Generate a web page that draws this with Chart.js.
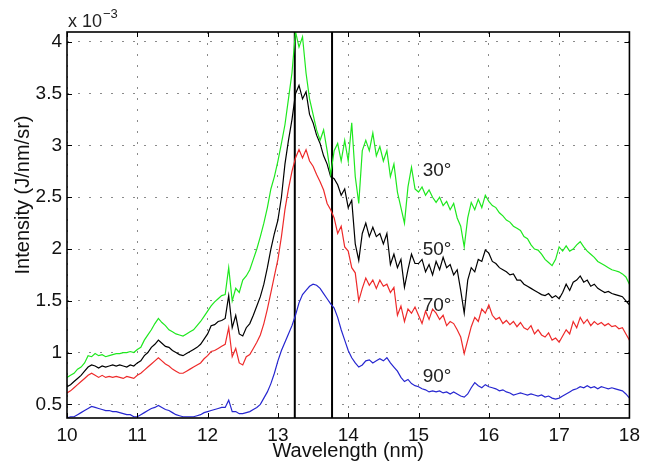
<!DOCTYPE html>
<html>
<head>
<meta charset="utf-8">
<script src="https://cdn.jsdelivr.net/npm/chart.js@4.4.1/dist/chart.umd.min.js"></script>
<style>
  html, body { margin: 0; padding: 0; background: #fff; }
</style>
</head>
<body>
<canvas id="spectraChart" width="646" height="463"></canvas>
<script>
// wavelength sampling grid (nm)
const waveStart = 10;
const waveStep = 0.05;

// intensities in units of 1e-3 J/nm/sr, one value per 0.05 nm from 10 to 18 nm
const int30 = [
  0.76,0.78,0.80,0.84,0.86,0.90,0.97,0.96,0.99,0.97,0.98,0.96,0.97,0.98,0.99,0.99,1.00,1.00,1.01,1.00,
  1.03,1.05,1.12,1.17,1.22,1.28,1.33,1.29,1.26,1.22,1.20,1.18,1.17,1.16,1.18,1.20,1.22,1.26,1.30,1.35,
  1.40,1.45,1.49,1.52,1.55,1.56,1.82,1.50,1.62,1.58,1.70,1.74,1.80,1.90,2.00,2.12,2.25,2.40,2.58,2.70,
  2.85,3.02,3.20,3.45,3.70,4.10,3.95,4.05,3.70,3.45,3.30,3.15,3.05,3.15,2.95,2.72,2.95,3.02,2.85,3.05,
  2.85,3.22,2.70,2.44,2.95,3.05,2.95,3.12,2.90,2.99,2.85,2.95,2.70,2.82,2.55,2.40,2.25,2.60,2.79,2.58,
  2.55,2.60,2.52,2.57,2.50,2.45,2.50,2.42,2.46,2.38,2.44,2.30,2.22,2.02,2.30,2.45,2.38,2.48,2.40,2.52,
  2.46,2.42,2.40,2.35,2.32,2.28,2.26,2.22,2.20,2.18,2.12,2.10,2.04,2.00,1.99,1.95,1.90,1.87,1.84,1.90,
  2.02,1.98,2.03,1.98,2.00,2.04,2.07,2.02,1.98,1.95,1.92,1.88,1.86,1.84,1.82,1.80,1.79,1.78,1.76,1.73,
  1.66
];
const int50 = [
  0.67,0.69,0.72,0.75,0.78,0.82,0.86,0.88,0.87,0.85,0.87,0.86,0.87,0.88,0.87,0.88,0.87,0.86,0.88,0.87,
  0.90,0.92,0.97,1.00,1.05,1.08,1.12,1.09,1.06,1.05,1.02,1.00,0.98,0.97,0.99,1.01,1.03,1.05,1.08,1.13,
  1.18,1.26,1.27,1.30,1.31,1.33,1.55,1.24,1.36,1.18,1.16,1.24,1.28,1.36,1.45,1.54,1.66,1.82,2.00,2.15,
  2.28,2.50,2.82,3.05,3.25,3.50,3.58,3.45,3.52,3.30,3.22,3.10,3.02,2.90,2.82,2.70,2.68,2.62,2.52,2.58,
  2.40,2.47,2.05,1.89,2.15,2.25,2.12,2.21,2.12,2.15,2.05,2.15,1.85,1.95,1.82,1.90,1.63,1.80,1.95,1.86,
  1.86,1.90,1.78,1.85,1.75,1.88,1.80,1.92,1.82,1.85,1.75,1.80,1.60,1.38,1.70,1.82,1.78,1.90,1.88,1.99,
  1.96,1.88,1.86,1.82,1.80,1.78,1.75,1.76,1.70,1.70,1.66,1.64,1.62,1.60,1.58,1.56,1.55,1.57,1.53,1.55,
  1.52,1.58,1.66,1.60,1.68,1.70,1.74,1.68,1.70,1.64,1.66,1.62,1.60,1.58,1.59,1.57,1.56,1.55,1.54,1.50,
  1.46
];
const int70 = [
  0.61,0.63,0.66,0.69,0.72,0.75,0.78,0.80,0.78,0.76,0.78,0.76,0.77,0.76,0.77,0.76,0.75,0.77,0.76,0.75,
  0.78,0.80,0.83,0.86,0.89,0.92,0.95,0.92,0.89,0.87,0.84,0.82,0.80,0.80,0.82,0.84,0.86,0.88,0.90,0.94,
  0.97,1.01,1.02,1.04,1.06,1.08,1.24,0.96,1.04,0.90,0.88,0.96,0.98,1.04,1.10,1.17,1.28,1.42,1.58,1.74,
  1.90,2.12,2.38,2.58,2.75,2.88,2.96,2.88,2.96,2.85,2.80,2.72,2.65,2.57,2.44,2.38,2.30,2.15,2.22,2.02,
  1.98,1.82,1.77,1.50,1.62,1.72,1.65,1.70,1.62,1.70,1.64,1.66,1.58,1.63,1.36,1.45,1.30,1.42,1.38,1.44,
  1.36,1.28,1.40,1.32,1.42,1.38,1.32,1.36,1.26,1.30,1.28,1.22,1.15,0.99,1.12,1.25,1.34,1.30,1.42,1.38,
  1.46,1.36,1.32,1.34,1.28,1.31,1.27,1.30,1.25,1.29,1.24,1.22,1.26,1.18,1.22,1.17,1.15,1.19,1.12,1.14,
  1.10,1.16,1.22,1.18,1.30,1.24,1.34,1.28,1.32,1.26,1.30,1.27,1.29,1.26,1.28,1.25,1.26,1.23,1.24,1.18,
  1.12
];
const int90 = [
  0.37,0.38,0.38,0.40,0.42,0.44,0.46,0.48,0.47,0.46,0.45,0.44,0.44,0.43,0.43,0.42,0.41,0.40,0.40,0.38,
  0.38,0.40,0.42,0.44,0.46,0.47,0.49,0.47,0.45,0.44,0.42,0.40,0.39,0.38,0.38,0.38,0.38,0.39,0.40,0.42,
  0.43,0.44,0.45,0.46,0.47,0.47,0.54,0.43,0.43,0.41,0.41,0.42,0.43,0.45,0.47,0.50,0.56,0.62,0.70,0.80,
  0.92,1.02,1.10,1.18,1.26,1.36,1.48,1.56,1.60,1.64,1.66,1.65,1.62,1.57,1.52,1.47,1.43,1.34,1.22,1.12,
  1.02,0.95,0.90,0.86,0.88,0.92,0.93,0.90,0.92,0.94,0.92,0.95,0.90,0.86,0.82,0.76,0.72,0.74,0.70,0.68,
  0.67,0.65,0.64,0.62,0.63,0.62,0.63,0.61,0.62,0.60,0.62,0.60,0.58,0.57,0.60,0.66,0.71,0.68,0.66,0.69,
  0.67,0.66,0.65,0.63,0.64,0.62,0.61,0.59,0.60,0.61,0.60,0.59,0.60,0.59,0.58,0.59,0.57,0.58,0.56,0.55,
  0.56,0.58,0.60,0.62,0.64,0.65,0.67,0.66,0.68,0.66,0.67,0.65,0.67,0.66,0.65,0.66,0.65,0.64,0.63,0.60,
  0.56
];

const angleLabels = ['30°', '50°', '70°', '90°'];
const markerWaves = [13.24, 13.77];   // the two vertical lines (nm)
const xTickVals = [10, 11, 12, 13, 14, 15, 16, 17, 18];
const yTickVals = [0.5, 1, 1.5, 2, 2.5, 3, 3.5, 4];
const xRange = [10, 18];
const yRange = [0.368, 4.096];

const fontFam = '"Liberation Sans", Arial, Helvetica, sans-serif';

function toPoints(vals) {
  return vals.map((v, i) => ({ x: +(waveStart + i * waveStep).toFixed(2), y: v }));
}

const lineColors = ['#1ee81e', '#000000', '#ee2a2a', '#2626d0'];
const series = [int30, int50, int70, int90];

const datasets = series.map((vals, i) => ({
  label: angleLabels[i],
  data: toPoints(vals),
  borderColor: lineColors[i],
  borderWidth: 1.2,
  pointRadius: 0,
  tension: 0,
  fill: false
}));

markerWaves.forEach(w => {
  datasets.push({
    label: 'marker',
    data: [{ x: w, y: yRange[0] }, { x: w, y: yRange[1] }],
    borderColor: '#000',
    borderWidth: 2,
    pointRadius: 0,
    fill: false
  });
});

// box around the axes with inward tick marks, MATLAB-like
const boxPlugin = {
  id: 'boxPlugin',
  afterDatasetsDraw(chart) {
    const { ctx, chartArea: a, scales } = chart;
    ctx.save();
    ctx.strokeStyle = '#000';
    ctx.lineWidth = 1;
    ctx.beginPath();
    xTickVals.forEach(v => {
      const px = Math.round(scales.x.getPixelForValue(v)) + 0.5;
      ctx.moveTo(px, a.bottom); ctx.lineTo(px, a.bottom - 5);
      ctx.moveTo(px, a.top); ctx.lineTo(px, a.top + 5);
    });
    yTickVals.forEach(v => {
      const py = Math.round(scales.y.getPixelForValue(v)) + 0.5;
      ctx.moveTo(a.left, py); ctx.lineTo(a.left + 5, py);
      ctx.moveTo(a.right, py); ctx.lineTo(a.right - 5, py);
    });
    ctx.stroke();
    ctx.lineWidth = 1.6;
    ctx.strokeRect(a.left, a.top, a.right - a.left, a.bottom - a.top);

    // angle labels next to the curves
    ctx.fillStyle = '#222';
    ctx.font = '19px ' + fontFam;
    ctx.textBaseline = 'middle';
    ctx.textAlign = 'left';
    const labelSpots = [[15.06, 2.76], [15.06, 1.99], [15.06, 1.45], [15.06, 0.77]];
    angleLabels.forEach((t, i) => {
      ctx.fillText(t, scales.x.getPixelForValue(labelSpots[i][0]), scales.y.getPixelForValue(labelSpots[i][1]));
    });

    // y axis title, rotated
    ctx.save();
    ctx.translate(23, 195);
    ctx.rotate(-Math.PI / 2);
    ctx.textAlign = 'center';
    ctx.textBaseline = 'middle';
    ctx.fillStyle = '#111';
    ctx.font = '20px ' + fontFam;
    ctx.fillText('Intensity (J/nm/sr)', 0, 0);
    ctx.restore();

    // exponent label
    ctx.textBaseline = 'alphabetic';
    ctx.textAlign = 'left';
    ctx.font = '18px ' + fontFam;
    ctx.fillText('x 10', a.left + 1, a.top - 5);
    const w = ctx.measureText('x 10').width;
    ctx.font = '13px ' + fontFam;
    ctx.fillText('\u22123', a.left + 2 + w, a.top - 14);
    ctx.restore();
  }
};

new Chart(document.getElementById('spectraChart'), {
  type: 'line',
  data: { datasets: datasets },
  options: {
    responsive: false,
    animation: false,
    devicePixelRatio: 1,
    layout: { padding: { top: 32, right: 13, left: 0, bottom: 0 } },
    plugins: { legend: { display: false }, tooltip: { enabled: false } },
    scales: {
      x: {
        type: 'linear',
        min: xRange[0],
        max: xRange[1],
        afterBuildTicks: s => { s.ticks = xTickVals.map(v => ({ value: v })); },
        afterFit: s => { s.height = 45; },
        grid: { color: '#8a8a8a', lineWidth: 1, drawTicks: false, borderDash: [2, 9] },
        border: { display: false, dash: [2, 9] },
        ticks: { color: '#111', padding: 6, maxRotation: 0, font: { family: fontFam, size: 19 },
                 callback: v => String(v) },
        title: { display: true, text: 'Wavelength (nm)', color: '#111',
                 font: { family: fontFam, size: 20 }, padding: { top: 0, bottom: 0 } }
      },
      y: {
        type: 'linear',
        min: yRange[0],
        max: yRange[1],
        afterBuildTicks: s => { s.ticks = yTickVals.map(v => ({ value: v })); },
        afterFit: s => { s.width = 67; },
        grid: { color: '#8a8a8a', lineWidth: 1, drawTicks: false, borderDash: [2, 9] },
        border: { display: false, dash: [2, 9] },
        ticks: { color: '#111', padding: 5, font: { family: fontFam, size: 19 },
                 callback: v => String(v) },
        title: { display: false }
      }
    }
  },
  plugins: [boxPlugin]
});
</script>
</body>
</html>
